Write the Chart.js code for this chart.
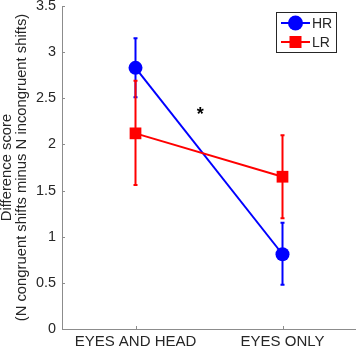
<!DOCTYPE html>
<html><head><meta charset="utf-8">
<script src="https://cdn.jsdelivr.net/npm/chart.js@4"></script>
<style>html,body{margin:0;padding:0;background:#fff}#wrap{width:358px;height:351px}</style>
</head><body><div id="wrap"><canvas id="c"></canvas></div>
<script>
const categories = ['EYES AND HEAD', 'EYES ONLY'];
const seriesNames = ['HR', 'LR'];
const hrMean = [2.83, 0.81];
const hrUpper = [3.15, 1.15];
const hrLower = [2.51, 0.48];
const lrMean = [2.12, 1.65];
const lrUpper = [2.69, 2.10];
const lrLower = [1.56, 1.20];
const yTicks = [0, 0.5, 1, 1.5, 2, 2.5, 3, 3.5];
const yTitle = ['Difference score', '(N congruent shifts minus N incongruent shifts)'];
const starMark = {x: 1.44, y: 2.35, text: '*'};

const FONT = "'Liberation Sans', Arial, sans-serif";
const AXIS = '#8c8c8c';
const TXT = '#262626';

const pts = arr => arr.map((v, i) => ({x: i + 1, y: v}));

const errorBars = {
  id: 'errorBars',
  afterDatasetsDraw(chart) {
    const {ctx, scales: {x, y}} = chart;
    const sets = [[hrUpper, hrLower, '#0000ff'], [lrUpper, lrLower, '#ff0000']];
    ctx.save();
    sets.forEach(([up, lo, col]) => {
      ctx.strokeStyle = col; ctx.lineWidth = 2;
      up.forEach((u, i) => {
        const px = x.getPixelForValue(i + 1);
        const pu = y.getPixelForValue(u), pl = y.getPixelForValue(lo[i]);
        ctx.beginPath();
        ctx.moveTo(px, pu); ctx.lineTo(px, pl);
        ctx.moveTo(px - 2, pu); ctx.lineTo(px + 2, pu);
        ctx.moveTo(px - 2, pl); ctx.lineTo(px + 2, pl);
        ctx.stroke();
      });
    });
    ctx.restore();
  }
};

const extras = {
  id: 'extras',
  beforeDatasetsDraw(chart) {
    const {ctx, chartArea: a, scales: {x, y}} = chart;
    ctx.save();
    ctx.strokeStyle = AXIS; ctx.lineWidth = 1;
    ctx.beginPath();
    ctx.moveTo(a.left + 0.5, a.top); ctx.lineTo(a.left + 0.5, a.bottom + 0.5);
    ctx.lineTo(a.right, a.bottom + 0.5);
    yTicks.forEach(t => { const py = Math.round(y.getPixelForValue(t)) + 0.5; ctx.moveTo(a.left, py); ctx.lineTo(a.left + 3, py); });
    categories.forEach((c, i) => { const px = Math.round(x.getPixelForValue(i + 1)) + 0.5; ctx.moveTo(px, a.bottom); ctx.lineTo(px, a.bottom - 3); });
    ctx.stroke();
    ctx.restore();
  },
  afterDraw(chart) {
    const {ctx, scales: {x, y}} = chart;
    ctx.save();
    ctx.fillStyle = '#000';
    ctx.font = 'bold 18px ' + FONT;
    ctx.textAlign = 'center'; ctx.textBaseline = 'middle';
    ctx.fillText(starMark.text, x.getPixelForValue(starMark.x), y.getPixelForValue(starMark.y) + 3);
    const lx = 276.5, ly = 12.5, lw = 60, lh = 40;
    ctx.fillStyle = '#fff'; ctx.fillRect(lx, ly, lw, lh);
    ctx.strokeStyle = '#262626'; ctx.lineWidth = 1; ctx.strokeRect(lx, ly, lw, lh);
    const cols = ['#0000ff', '#ff0000'];
    seriesNames.forEach((n, i) => {
      const cy = 23 + i * 19;
      ctx.strokeStyle = cols[i]; ctx.lineWidth = 2;
      ctx.beginPath(); ctx.moveTo(281, cy); ctx.lineTo(310, cy); ctx.stroke();
      ctx.fillStyle = cols[i];
      if (i === 0) { ctx.beginPath(); ctx.arc(295.5, cy, 7.5, 0, Math.PI * 2); ctx.fill(); }
      else { ctx.fillRect(289.5, cy - 6, 12, 12); }
      ctx.fillStyle = TXT; ctx.font = '14px ' + FONT;
      ctx.textAlign = 'left'; ctx.textBaseline = 'middle';
      ctx.fillText(n, 312, cy + 1);
    });
    ctx.restore();
  }
};

new Chart(document.getElementById('c'), {
  type: 'line',
  data: {
    datasets: [
      {label: seriesNames[0], data: pts(hrMean), borderColor: '#0000ff', backgroundColor: '#0000ff',
       borderWidth: 2, pointStyle: 'circle', pointRadius: 7, pointBorderWidth: 0, order: 2},
      {label: seriesNames[1], data: pts(lrMean), borderColor: '#ff0000', backgroundColor: '#ff0000',
       borderWidth: 2, pointStyle: 'rect', pointRadius: 8.3, pointBorderWidth: 0, order: 1}
    ]
  },
  options: {
    responsive: true, maintainAspectRatio: false, animation: false,
    layout: {autoPadding: false, padding: {top: 6, right: 2, left: 0, bottom: 0}},
    plugins: {legend: {display: false}, tooltip: {enabled: false}},
    scales: {
      x: {
        type: 'linear', min: 0.5, max: 2.5,
        afterBuildTicks: s => { s.ticks = categories.map((c, i) => ({value: i + 1})); },
        afterFit: s => { s.height = 22; s.paddingLeft = 0; s.paddingRight = 0; },
        border: {display: false},
        grid: {display: false, drawTicks: false},
        ticks: {callback: v => categories[v - 1] || '', color: TXT, font: {family: FONT, size: 15}, padding: 4, maxRotation: 0, autoSkip: false}
      },
      y: {
        min: 0, max: 3.5,
        afterBuildTicks: s => { s.ticks = yTicks.map(v => ({value: v})); },
        afterFit: s => { s.width = 62; s.paddingTop = 0; s.paddingBottom = 0; },
        border: {display: false},
        grid: {display: false, drawTicks: false},
        ticks: {color: TXT, font: {family: FONT, size: 14.4}, padding: 6, callback: v => String(v)},
        title: {display: true, text: yTitle, color: TXT, font: {family: FONT, size: 14.8, lineHeight: 1.0}, padding: {top: 0, bottom: 1}}
      }
    }
  },
  plugins: [extras, errorBars]
});
</script>
</body></html>
